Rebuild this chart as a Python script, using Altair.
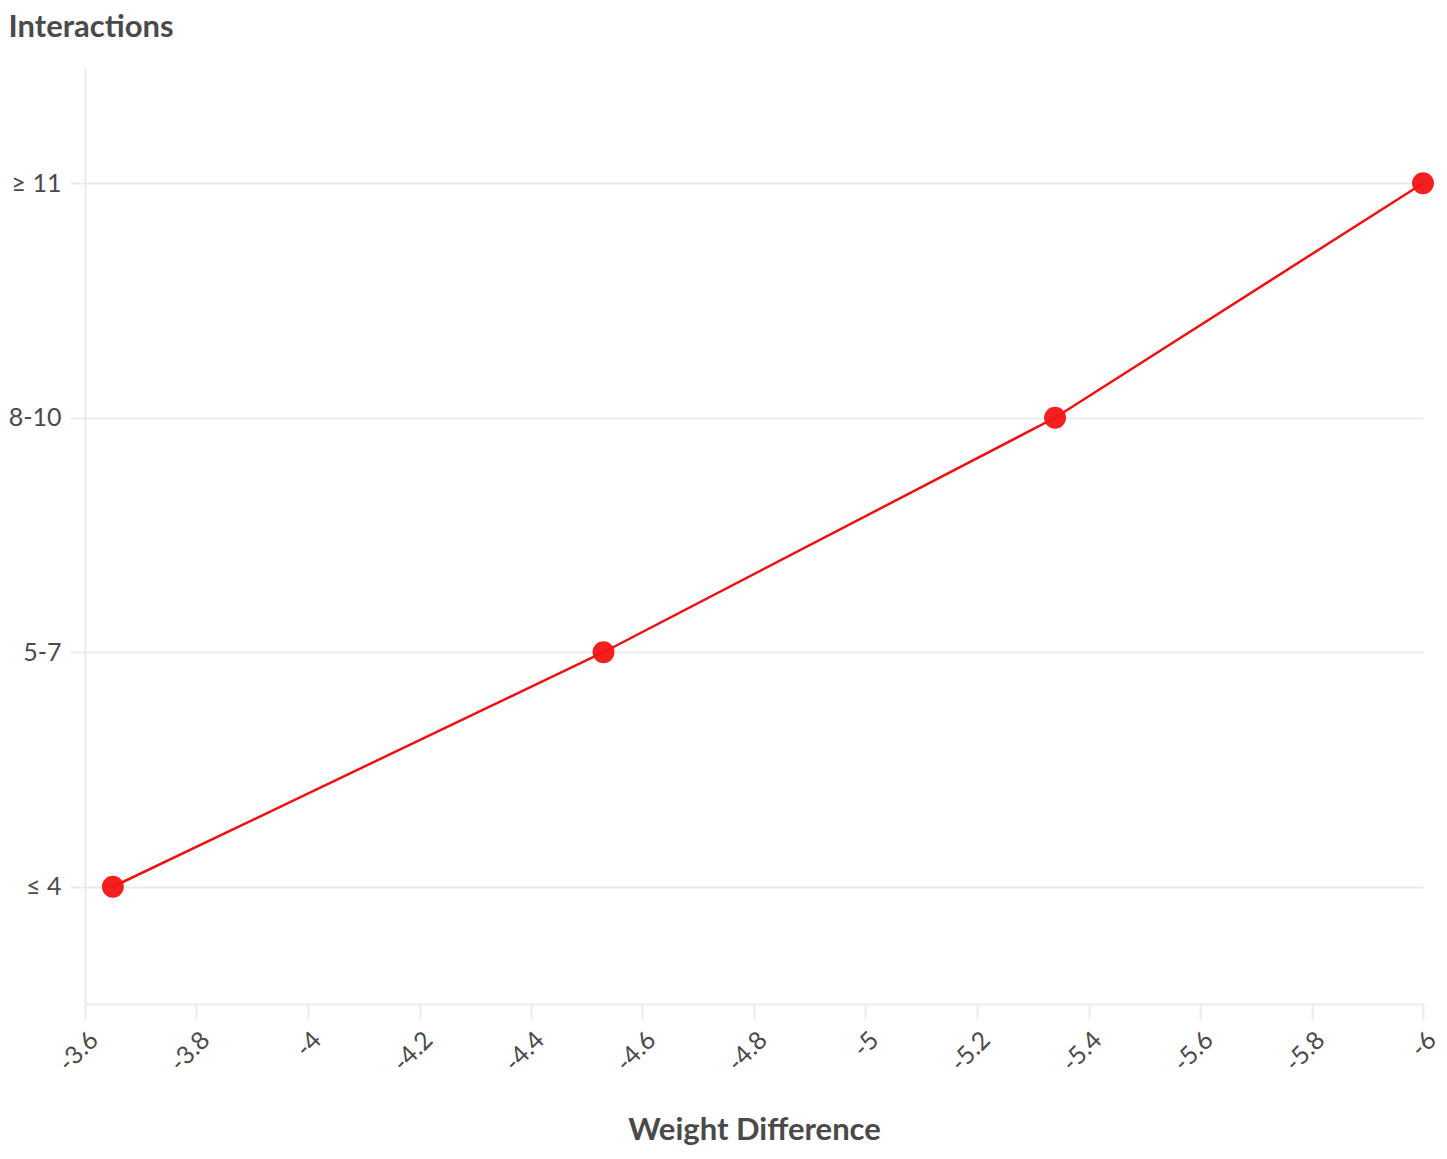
import altair as alt
import pandas as pd

interactions = ["≤ 4", "5-7", "8-10", "≥ 11"]
weight_diff = [-3.65, -4.53, -5.34, -6.0]
x_ticks = [-3.6, -3.8, -4.0, -4.2, -4.4, -4.6, -4.8, -5.0, -5.2, -5.4, -5.6, -5.8, -6.0]

df = pd.DataFrame({"Interactions": interactions, "Weight Difference": weight_diff})

FONT = "Lato"
TEXT = "#4a4a4a"
GRID = "#ebebeb"

x_enc = alt.X(
    "Weight Difference:Q",
    scale=alt.Scale(domain=[-3.6, -6.0], nice=False, zero=False),
    axis=alt.Axis(
        values=x_ticks,
        labelExpr="'' + datum.value",
        labelAngle=-45,
        labelFontSize=25,
        labelColor=TEXT,
        labelPadding=8,
        grid=False,
        domainColor=GRID,
        domainWidth=2,
        tickColor=GRID,
        tickWidth=2,
        tickSize=15,
        title="Weight Difference",
        titleFontSize=31,
        titleFontWeight="bold",
        titleColor=TEXT,
        titlePadding=40,
    ),
)
y_enc = alt.Y(
    "Interactions:O",
    sort=["≥ 11", "8-10", "5-7", "≤ 4"],
    scale=alt.Scale(type="point", padding=0.5),
    axis=alt.Axis(
        labelFontSize=25,
        labelColor=TEXT,
        labelPadding=9,
        grid=True,
        gridColor=GRID,
        gridWidth=2,
        domainColor=GRID,
        domainWidth=2,
        tickColor=GRID,
        tickWidth=2,
        tickSize=15,
        title="Interactions",
        titleAngle=0,
        titleAlign="left",
        titleBaseline="top",
        titleX=-77,
        titleY=-54,
        titleFontSize=31,
        titleFontWeight="bold",
        titleColor=TEXT,
    ),
)

base = alt.Chart(df).encode(x=x_enc, y=y_enc, order=alt.Order("Weight Difference:Q", sort="descending"))
line = base.mark_line(color="#ee1111", strokeWidth=2.5)
pts = base.mark_point(filled=True, size=480, color="#f21414", opacity=0.95)

chart = (
    alt.layer(line, pts)
    .properties(
        width=1338,
        height=938,
        autosize=alt.AutoSizeParams(type="none"),
        padding={"left": 77, "top": 58, "right": 16, "bottom": 145},
    )
    .configure(font=FONT)
    .configure_view(stroke=None)
)

chart.save("out.html", embed_options={"renderer": "svg", "actions": False})
